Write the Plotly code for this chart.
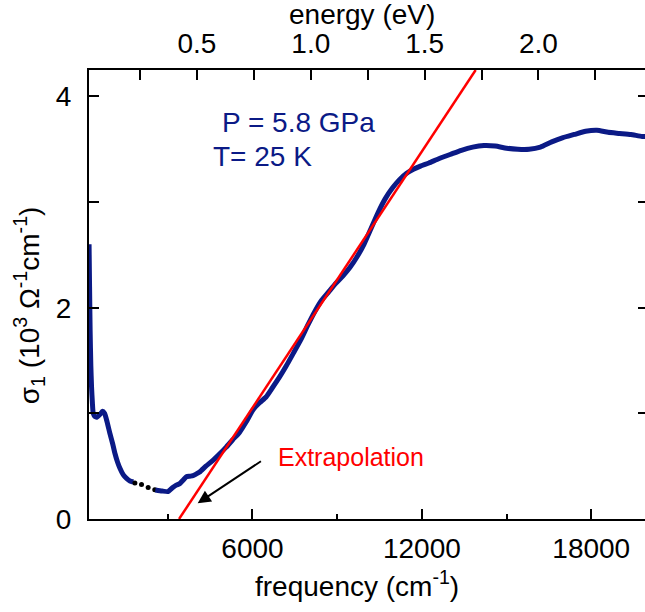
import plotly.graph_objects as go

# ---- data ----
freq = [212, 230, 250, 275, 300, 330, 360, 420, 500, 600, 690, 760, 850, 950, 1050, 1130,
        1220, 1306, 1420, 1540, 1660, 1780]
sigma = [2.60, 2.20, 1.78, 1.45, 1.25, 1.10, 1.00, 0.97, 0.965, 0.99, 1.02, 1.00, 0.92, 0.81,
         0.71, 0.62, 0.54, 0.48, 0.42, 0.385, 0.36, 0.35]

gap_freq = [1835, 2070, 2306, 2540]
gap_sigma = [0.34, 0.326, 0.297, 0.278]

freq2 = [2560, 2800, 3010, 3100, 3190, 3300, 3424, 3550, 3660, 3780, 3895, 4000, 4130, 4350,
         4600, 4850, 5070, 5300, 5540, 5780, 6010, 6250, 6480, 6700, 6950, 7200, 7450, 7700,
         7950, 8200, 8450, 8700, 8950, 9200, 9450, 9700, 9950, 10200, 10450, 10700, 10950,
         11200, 11450, 11700, 11950, 12250, 12600, 13000, 13400, 13800, 14200, 14600, 15000,
         15400, 15800, 16200, 16600, 17000, 17400, 17800, 18200, 18600, 19000, 19400, 19800, 20010]
sigma2 = [0.275, 0.265, 0.26, 0.28, 0.30, 0.32, 0.335, 0.37, 0.40, 0.405, 0.41, 0.425, 0.445,
          0.50, 0.555, 0.62, 0.68, 0.75, 0.82, 0.92, 1.03, 1.10, 1.155, 1.24, 1.34, 1.45, 1.57,
          1.69, 1.83, 1.96, 2.07, 2.15, 2.23, 2.30, 2.38, 2.48, 2.60, 2.75, 2.90, 3.03, 3.13,
          3.21, 3.27, 3.31, 3.34, 3.37, 3.41, 3.45, 3.49, 3.52, 3.535, 3.53, 3.51, 3.50, 3.50,
          3.52, 3.57, 3.61, 3.64, 3.67, 3.68, 3.66, 3.65, 3.64, 3.62, 3.62]

fit_freq = [3400, 13906]
fit_sigma = [0.0, 4.25]

x_major = [6000, 12000, 18000]
x_major_text = ["6000", "12000", "18000"]
x_minor = [3000, 9000, 15000]
y_major = [0, 2, 4]
y_major_text = ["0", "2", "4"]
y_minor = [1, 3]
e_major = [0.5, 1.0, 1.5, 2.0]
e_major_text = ["0.5", "1.0", "1.5", "2.0"]
e_minor = [0.25, 0.75, 1.25, 1.75, 2.25]

CM_PER_EV = 8065.54
x_range = [210, 20010]
y_range = [0, 4.25]

BLUE = "#0b1a86"
FONT = "Liberation Sans, Arial, sans-serif"
FS = 28

fig = go.Figure()
fig.add_trace(go.Scatter(x=freq, y=sigma, mode="lines",
                         line=dict(color=BLUE, width=5, shape="spline", smoothing=0.5),
                         showlegend=False))
fig.add_trace(go.Scatter(x=gap_freq, y=gap_sigma, mode="markers",
                         marker=dict(color="black", size=5), showlegend=False))
fig.add_trace(go.Scatter(x=freq2, y=sigma2, mode="lines",
                         line=dict(color=BLUE, width=5, shape="spline", smoothing=0.5),
                         showlegend=False))
fig.add_trace(go.Scatter(x=fit_freq, y=fit_sigma, mode="lines",
                         line=dict(color="red", width=2.5), showlegend=False))
# dummy trace for the top energy axis
fig.add_trace(go.Scatter(x=[x_range[0] / CM_PER_EV], y=[None], xaxis="x2", yaxis="y",
                         mode="lines", showlegend=False, hoverinfo="skip"))

tick_style = dict(ticks="inside", ticklen=10, tickwidth=2, tickcolor="black")
minor_style = dict(ticks="inside", ticklen=5, tickwidth=2, tickcolor="black")

fig.update_layout(
    width=652, height=612,
    margin=dict(l=89, r=2, t=70, b=93),
    paper_bgcolor="white", plot_bgcolor="white",
    font=dict(family=FONT, size=FS, color="black"),
    xaxis=dict(range=x_range, showgrid=False, zeroline=False,
               showline=True, linecolor="black", linewidth=2, **tick_style,
               tickvals=x_major, ticktext=x_major_text, ticklabelstandoff=3,
               minor=dict(tickvals=x_minor, **minor_style)),
    xaxis2=dict(range=[x_range[0] / CM_PER_EV, x_range[1] / CM_PER_EV], overlaying="x",
                side="top", anchor="y", showgrid=False, zeroline=False,
                showline=True, linecolor="black", linewidth=2, **tick_style,
                tickvals=e_major, ticktext=e_major_text, ticklabelstandoff=4,
                minor=dict(tickvals=e_minor, ticks="inside", ticklen=10, tickwidth=2,
                           tickcolor="black")),
    yaxis=dict(range=y_range, showgrid=False, zeroline=False,
               showline=True, linecolor="black", linewidth=2, mirror="allticks",
               **tick_style, tickvals=y_major, ticktext=y_major_text, ticklabelstandoff=10,
               minor=dict(tickvals=y_minor, **minor_style)),
    annotations=[
        dict(text="frequency (cm<sup>-1</sup>)", xref="paper", yref="paper",
             x=(357.5 - 89) / 561, y=(519 - 584) / 449, xanchor="center", yanchor="middle",
             showarrow=False, font=dict(size=FS)),
        dict(text="energy (eV)", xref="paper", yref="paper",
             x=(363 - 89) / 561, y=(519 - 14) / 449, xanchor="center", yanchor="middle",
             showarrow=False, font=dict(size=FS)),
        dict(text="σ<sub>1</sub> (10<sup>3</sup> Ω<sup>-1</sup>cm<sup>-1</sup>)",
             xref="paper", yref="paper", textangle=-90,
             x=(29 - 89) / 561, y=(519 - 305) / 449, xanchor="center", yanchor="middle",
             showarrow=False, font=dict(size=FS)),
        dict(text="P = 5.8 GPa", x=4835, y=3.754, xanchor="left", yanchor="middle",
             showarrow=False, font=dict(size=FS, color=BLUE)),
        dict(text="T= 25 K", x=4543, y=3.43, xanchor="left", yanchor="middle",
             showarrow=False, font=dict(size=FS, color=BLUE)),
        dict(text="Extrapolation", x=6836, y=0.584, xanchor="left", yanchor="middle",
             showarrow=False, font=dict(size=25, color="red")),
        dict(text="", x=4059, y=0.149, ax=6353, ay=0.556, axref="x", ayref="y",
             showarrow=True, arrowhead=2, arrowsize=1.3, arrowwidth=2, arrowcolor="black"),
    ],
)

fig.write_html("out.html", config={"displayModeBar": False},
               post_script="document.documentElement.style.overflow='hidden';"
                           "document.body.style.overflow='hidden';document.body.style.margin='0';")
